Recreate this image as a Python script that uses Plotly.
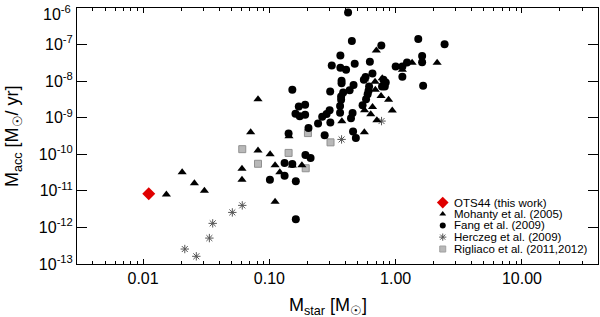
import plotly.graph_objects as go

# ---------------- data ----------------
fang_mass = [0.42, 0.45, 0.77, 1.51, 2.44, 1.62, 1.62, 1.65, 0.365, 0.312, 0.365, 0.405,
             0.474, 0.625, 1.00, 1.13, 1.23, 1.13, 0.655, 0.578, 0.56, 0.373, 0.373, 0.152,
             0.303, 0.464, 0.384, 0.432, 0.37, 0.37, 0.616, 0.61, 0.60, 0.583, 0.80, 0.835,
             0.82, 0.78, 0.171, 0.192, 0.161, 0.174, 0.192, 0.30, 0.284, 0.262, 0.363, 0.363,
             0.456, 0.443, 0.547, 0.304, 0.243, 0.204, 0.274, 0.46, 0.484, 0.142, 0.132, 0.152,
             0.193, 0.212, 0.101, 0.132, 0.162, 0.162]
fang_macc = [7.6e-7, 1.26e-7, 9.4e-8, 1.43e-7, 1.02e-7, 4.9e-8, 3.27e-8, 7.5e-9, 5.0e-8, 2.67e-8,
             2.31e-8, 2.04e-8, 3.0e-8, 3.37e-8, 2.5e-8, 2.5e-8, 3.24e-8, 1.31e-8, 1.61e-8, 1.29e-8,
             1.09e-8, 1.02e-8, 8.7e-9, 5.8e-9, 5.2e-9, 7.8e-9, 4.9e-9, 5.6e-9, 3.8e-9, 3.1e-9,
             7.1e-9, 5.5e-9, 4.4e-9, 3.2e-9, 1.09e-8, 9.2e-9, 7.1e-9, 7.1e-9, 2.03e-9, 2.26e-9,
             1.29e-9, 1.09e-9, 1.21e-9, 1.6e-9, 1.26e-9, 1.06e-9, 2.08e-9, 1.37e-9, 1.34e-9, 9.7e-10,
             2.19e-9, 7.4e-10, 6.9e-10, 5.2e-10, 3.3e-10, 4.2e-10, 2.8e-10, 3.7e-10, 5.75e-11, 5.4e-11,
             9.5e-11, 7.9e-11, 2.0e-11, 2.6e-11, 1.83e-11, 1.66e-12]

mohanty_mass = [0.0153, 0.0204, 0.0255, 0.0306, 0.0607, 0.0607, 0.0813, 0.1014, 0.111, 0.121,
                0.181, 0.111, 0.0711, 0.0813, 0.143, 0.152, 0.703, 1.35, 2.13, 1.13, 0.567,
                0.687, 0.783, 0.69, 0.766, 0.879, 0.94, 0.656, 0.567, 0.635, 0.71, 0.375, 0.565]
mohanty_macc = [7.9e-12, 3.2e-11, 1.62e-11, 1.0e-11, 4.0e-11, 2.0e-11, 1.26e-10, 1.0e-10, 5.0e-11,
                3.2e-11, 5.0e-11, 5.0e-12, 4.0e-10, 3.2e-9, 3.1e-10, 4.9e-11, 6.9e-8, 3.2e-8, 3.2e-8,
                2.04e-8, 1.12e-8, 9.6e-9, 1.21e-8, 5.8e-9, 3.9e-9, 3.1e-9, 1.58e-9, 1.96e-9, 1.6e-9,
                1.25e-9, 8.5e-10, 8.0e-10, 4.0e-10]

herczeg_mass = [0.0214, 0.0264, 0.0335, 0.0356, 0.0509, 0.061, 0.373, 0.773]
herczeg_macc = [2.56e-13, 1.62e-13, 5.1e-13, 1.29e-12, 2.57e-12, 4.0e-12, 2.55e-10, 8.1e-10]

rigliaco_mass = [0.061, 0.0813, 0.142, 0.194, 0.202, 0.305]
rigliaco_macc = [1.38e-10, 5.5e-11, 1.09e-10, 4.15e-11, 3.8e-10, 2.12e-10]

ots44_mass = [0.0111]
ots44_macc = [8.3e-12]

legend_labels = ["OTS44 (this work)", "Mohanty et al. (2005)", "Fang et al. (2009)",
                 "Herczeg et al. (2009)", "Rigliaco et al. (2011,2012)"]

x_tickvals = [0.01, 0.1, 1, 10]
x_ticktext = ["0.01", "0.10", "1.00", "10.00"]
y_exponents = [-13, -12, -11, -10, -9, -8, -7, -6]

x_title = "M<sub>star</sub> [M<sub>☉</sub>]"
y_title = "M<sub>acc</sub> [M<sub>☉</sub>/ yr]"

# ---------------- styles ----------------
FONT = "Liberation Sans, Arial, Helvetica, sans-serif"
styles = [
    dict(symbol="diamond", size=10, color="#e00000", line=dict(width=0)),
    dict(symbol="triangle-up", size=8, color="black", line=dict(width=0)),
    dict(symbol="circle", size=8, color="black", line=dict(width=0)),
    dict(symbol="asterisk-open", size=7, color="#555555", line=dict(width=1, color="#555555")),
    dict(symbol="square", size=7, color="#b8b8b8", line=dict(width=1, color="#909090")),
]
legend_styles = [
    dict(symbol="diamond", size=9, color="#e00000", line=dict(width=0)),
    dict(symbol="triangle-up", size=6, color="black", line=dict(width=0)),
    dict(symbol="circle", size=6, color="black", line=dict(width=0)),
    dict(symbol="asterisk-open", size=6, color="#555555", line=dict(width=1, color="#555555")),
    dict(symbol="square", size=6, color="#b8b8b8", line=dict(width=1, color="#a0a0a0")),
]

fig = go.Figure()

series = [
    (rigliaco_mass, rigliaco_macc, 4),
    (herczeg_mass, herczeg_macc, 3),
    (mohanty_mass, mohanty_macc, 1),
    (fang_mass, fang_macc, 2),
    (ots44_mass, ots44_macc, 0),
]
for xs, ys, k in series:
    fig.add_trace(go.Scatter(x=xs, y=ys, mode="markers", marker=styles[k],
                             name=legend_labels[k], showlegend=False, hoverinfo="x+y"))

# ---------------- hand-made legend (inside lower right) ----------------
leg_y = [0.240, 0.195, 0.1505, 0.105, 0.0585]
leg_mx = 0.702
leg_tx = 0.7195
for k in range(5):
    fig.add_trace(go.Scatter(x=[leg_mx], y=[leg_y[k]], mode="markers", marker=legend_styles[k],
                             xaxis="x2", yaxis="y2", showlegend=False, hoverinfo="skip"))
    fig.add_annotation(x=leg_tx, y=leg_y[k], xref="paper", yref="paper", text=legend_labels[k],
                       showarrow=False, xanchor="left", yanchor="middle",
                       font=dict(family=FONT, size=11.5, color="black"))

# the top y label is nudged down inside the figure, as in the reference
y_ticktext = ["10<sup>%d</sup>" % e for e in y_exponents]
top_label = y_ticktext[-1]
y_ticktext[-1] = ""
fig.add_annotation(x=0, y=1, xref="paper", yref="paper", text=top_label, showarrow=False,
                   xanchor="right", yanchor="top", xshift=-4, yshift=7,
                   font=dict(family=FONT, size=16, color="black"))

# axis titles placed as in the reference
fig.add_annotation(x=0.4813, y=0, xref="paper", yref="paper", text=x_title, showarrow=False,
                   xanchor="center", yanchor="top", yshift=-29,
                   font=dict(family=FONT, size=18, color="black"))
fig.add_annotation(x=0, y=0.5, xref="paper", yref="paper", text=y_title, showarrow=False,
                   textangle=-90, xanchor="center", yanchor="middle", xshift=-64,
                   font=dict(family=FONT, size=18, color="black"))

fig.update_layout(
    width=600, height=317,
    margin=dict(l=77, r=2, t=8, b=53, autoexpand=False),
    paper_bgcolor="white", plot_bgcolor="white",
    font=dict(family=FONT, color="black"),
    showlegend=False,
    xaxis=dict(
        type="log", range=[-2.523, 1.602], showgrid=False, zeroline=False,
        showline=True, linecolor="black", linewidth=1, mirror="ticks",
        ticks="inside", ticklen=5, tickcolor="black", tickwidth=1,
        tickvals=x_tickvals, ticktext=x_ticktext, tickfont=dict(size=16),
        ticklabelstandoff=0,
        minor=dict(ticks="inside", ticklen=3, tickcolor="black", tickwidth=1,
                   dtick="D1", showgrid=False),
        automargin=False,
    ),
    yaxis=dict(
        type="log", range=[-13.001, -5.999], showgrid=False, zeroline=False,
        showline=True, linecolor="black", linewidth=1, mirror="ticks",
        ticks="inside", ticklen=10, tickcolor="black", tickwidth=1,
        tickvals=[10.0 ** e for e in y_exponents],
        ticktext=y_ticktext,
        tickfont=dict(size=16),
        automargin=False,
    ),
    xaxis2=dict(overlaying="x", range=[0, 1], visible=False, fixedrange=True),
    yaxis2=dict(overlaying="y", range=[0, 1], visible=False, fixedrange=True),
)

fig.write_html("out.html", config={"displayModeBar": False},
               post_script="document.body.style.margin='0';")
